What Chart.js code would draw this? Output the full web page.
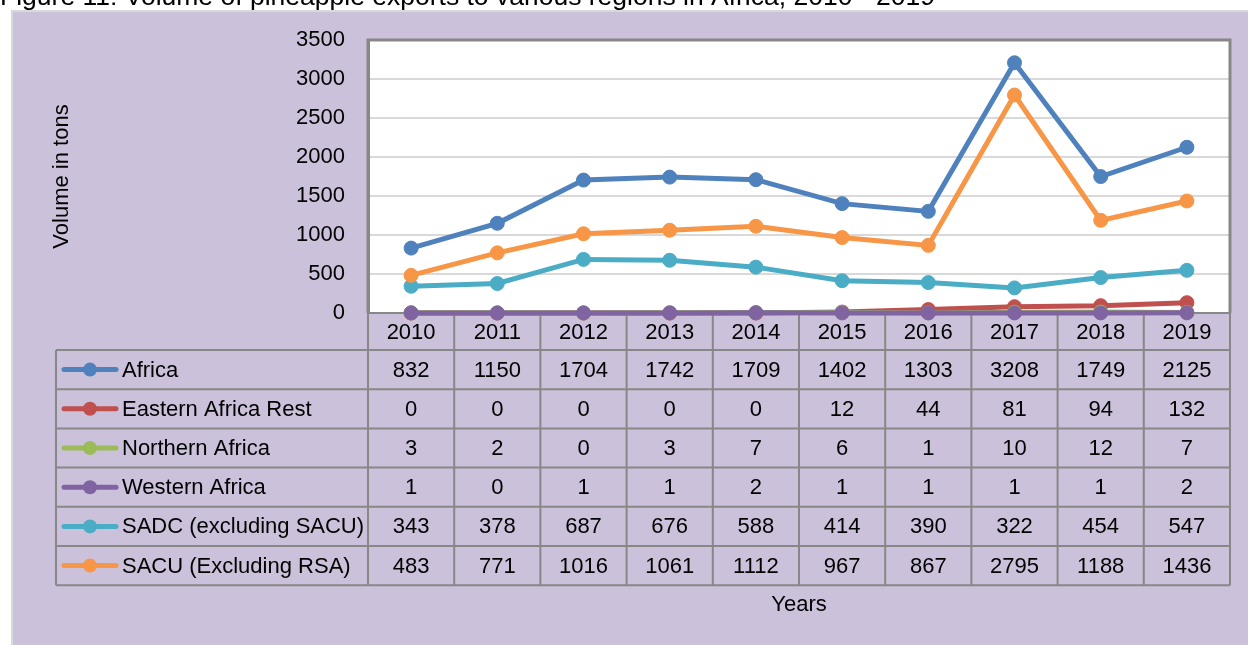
<!DOCTYPE html>
<html><head><meta charset="utf-8">
<script src="https://cdn.jsdelivr.net/npm/chart.js@4"></script>
<style>html,body{margin:0;padding:0;background:#fff;overflow:hidden}canvas{display:block}</style>
</head><body>
<canvas id="c" width="1248" height="645"></canvas>
<script>
const years = ['2010','2011','2012','2013','2014','2015','2016','2017','2018','2019'];
const africa = [832,1150,1704,1742,1709,1402,1303,3208,1749,2125];
const easternAfricaRest = [0,0,0,0,0,12,44,81,94,132];
const northernAfrica = [3,2,0,3,7,6,1,10,12,7];
const westernAfrica = [1,0,1,1,2,1,1,1,1,2];
const sadcExclSacu = [343,378,687,676,588,414,390,322,454,547];
const sacuExclRsa = [483,771,1016,1061,1112,967,867,2795,1188,1436];
const seriesNames = ['Africa','Eastern Africa Rest','Northern Africa','Western Africa','SADC (excluding SACU)','SACU (Excluding RSA)'];
const seriesValues = [africa, easternAfricaRest, northernAfrica, westernAfrica, sadcExclSacu, sacuExclRsa];
const seriesColors = ['#4f81bd','#c0504d','#9bbb59','#8064a2','#4bacc6','#f79646'];
const yTickMin = 0, yTickMax = 3500, yTickStep = 500;
const figureTitle = 'Figure 11: Volume of pineapple exports to various regions in Africa, 2010 - 2019';
const xAxisTitle = 'Years';
const yAxisTitle = 'Volume in tons';

const FONT = "'Liberation Sans', Arial, sans-serif";
Chart.defaults.font.family = FONT;
Chart.defaults.font.size = 22;
Chart.defaults.color = '#000';

const LAV = '#ccc1da';
const LINE = '#878787';
const ROW_H = 39.2;
const HEADER_BOTTOM = 350;
const TABLE_LEFT = 56;

const tablePlugin = {
  id: 'tablePlugin',
  beforeDraw(chart) {
    const ctx = chart.ctx, a = chart.chartArea;
    ctx.save();
    ctx.fillStyle = '#fff';
    ctx.fillRect(0, 0, chart.width, chart.height);
    ctx.fillStyle = '#000';
    ctx.font = '26.5px ' + FONT;
    ctx.textBaseline = 'alphabetic';
    ctx.textAlign = 'left';
    ctx.fillText(figureTitle, 0, 5);
    ctx.fillStyle = LAV;
    ctx.fillRect(11, 10, chart.width - 11, chart.height - 10);
    ctx.strokeStyle = '#d9d9d9';
    ctx.lineWidth = 2;
    ctx.beginPath();
    ctx.moveTo(12, chart.height); ctx.lineTo(12, 11); ctx.lineTo(chart.width, 11);
    ctx.stroke();
    ctx.fillStyle = '#fff';
    ctx.fillRect(a.left, a.top, a.right - a.left, a.bottom - a.top);
    ctx.restore();
  },
  beforeDatasetsDraw(chart) {
    const ctx = chart.ctx, a = chart.chartArea, xs = chart.scales.x;
    const n = years.length;
    const colW = (a.right - a.left) / n;
    const tableBottom = HEADER_BOTTOM + ROW_H * seriesNames.length;
    ctx.save();
    ctx.strokeStyle = LINE;
    ctx.lineWidth = 3;
    ctx.beginPath();
    ctx.moveTo(a.left, a.bottom); ctx.lineTo(a.left, a.top); ctx.lineTo(a.right, a.top); ctx.lineTo(a.right, a.bottom);
    ctx.stroke();
    ctx.lineWidth = 2;
    ctx.beginPath();
    ctx.moveTo(a.left, a.bottom); ctx.lineTo(a.right, a.bottom);
    for (let k = 0; k <= n; k++) {
      const x = a.left + k * colW;
      ctx.moveTo(x, a.bottom); ctx.lineTo(x, tableBottom);
    }
    ctx.moveTo(TABLE_LEFT, HEADER_BOTTOM); ctx.lineTo(TABLE_LEFT, tableBottom);
    for (let r = 0; r <= seriesNames.length; r++) {
      const y = HEADER_BOTTOM + r * ROW_H;
      ctx.moveTo(TABLE_LEFT, y); ctx.lineTo(a.right, y);
    }
    ctx.stroke();
    ctx.fillStyle = '#000';
    ctx.font = '22px ' + FONT;
    ctx.textAlign = 'center';
    ctx.textBaseline = 'middle';
    for (let i = 0; i < n; i++) {
      const cx = xs.getPixelForValue(i);
      ctx.fillText(years[i], cx, (a.bottom + HEADER_BOTTOM) / 2 + 1);
      for (let r = 0; r < seriesNames.length; r++) {
        const cy = HEADER_BOTTOM + (r + 0.5) * ROW_H + 1;
        ctx.fillText(String(seriesValues[r][i]), cx, cy);
      }
    }
    ctx.textAlign = 'left';
    for (let r = 0; r < seriesNames.length; r++) {
      const cy = HEADER_BOTTOM + (r + 0.5) * ROW_H;
      ctx.strokeStyle = seriesColors[r];
      ctx.lineWidth = 5;
      ctx.lineCap = 'round';
      ctx.beginPath(); ctx.moveTo(64, cy); ctx.lineTo(116, cy); ctx.stroke();
      ctx.fillStyle = seriesColors[r];
      ctx.beginPath(); ctx.arc(90, cy, 7, 0, Math.PI * 2); ctx.fill();
      ctx.fillStyle = '#000';
      ctx.fillText(seriesNames[r], 122, cy + 1);
    }
    ctx.restore();
  }
};

const datasets = seriesNames.map((name, i) => ({
  label: name,
  data: seriesValues[i],
  borderColor: seriesColors[i],
  backgroundColor: seriesColors[i],
  pointBackgroundColor: seriesColors[i],
  pointBorderColor: seriesColors[i],
  borderWidth: 5,
  pointRadius: 7,
  pointBorderWidth: 1,
  tension: 0,
  clip: false,
  order: seriesNames.length - i
}));

new Chart(document.getElementById('c'), {
  type: 'line',
  data: { labels: years, datasets },
  options: {
    responsive: false,
    animation: false,
    devicePixelRatio: 1,
    layout: { padding: { top: 40, right: 18, left: 0, bottom: 0 } },
    plugins: { legend: { display: false }, tooltip: { enabled: false }, title: { display: false } },
    scales: {
      x: {
        type: 'category',
        offset: true,
        grid: { display: false },
        border: { display: false },
        ticks: { display: false },
        title: { display: true, text: xAxisTitle, font: { size: 22 }, padding: { top: 0, bottom: 27 } },
        afterFit(s) { s.height = 332; }
      },
      y: {
        min: yTickMin, max: yTickMax,
        ticks: { stepSize: yTickStep, padding: 23, font: { size: 22 }, callback: (v) => String(v) },
        grid: { color: '#d9d9d9', lineWidth: 2, drawTicks: false },
        border: { display: true, color: LINE, width: 3 },
        title: { display: true, text: yAxisTitle, font: { size: 22 }, padding: { top: 49, bottom: 0 } },
        afterFit(s) { s.width = 368; }
      }
    }
  },
  plugins: [tablePlugin]
});
</script>
</body></html>
